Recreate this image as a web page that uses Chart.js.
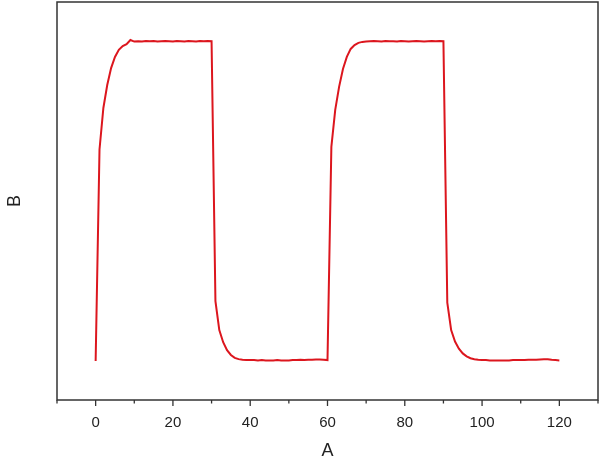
<!DOCTYPE html>
<html>
<head>
<meta charset="utf-8">
<script src="https://cdn.jsdelivr.net/npm/chart.js@4.4.1/dist/chart.umd.min.js"></script>
<style>
  html, body { margin: 0; padding: 0; background: #fff; }
</style>
</head>
<body>
<canvas id="chart" width="600" height="463"></canvas>
<script>
// ── Datos ───────────────────────────────────────────────────────────
const timeA = [
  0, 1, 2, 3, 4, 5, 6, 7, 8, 9, 10, 11, 12, 13, 14, 15, 16, 17, 18, 19,
  20, 21, 22, 23, 24, 25, 26, 27, 28, 29, 30, 31, 32, 33, 34, 35, 36, 37, 38, 39,
  40, 41, 42, 43, 44, 45, 46, 47, 48, 49, 50, 51, 52, 53, 54, 55, 56, 57, 58, 59,
  60, 61, 62, 63, 64, 65, 66, 67, 68, 69, 70, 71, 72, 73, 74, 75, 76, 77, 78, 79,
  80, 81, 82, 83, 84, 85, 86, 87, 88, 89, 90, 91, 92, 93, 94, 95, 96, 97, 98, 99,
  100, 101, 102, 103, 104, 105, 106, 107, 108, 109, 110, 111, 112, 113, 114, 115, 116, 117, 118, 119,
  120
];

const signalB = [
  -0.003, 0.660, 0.790, 0.862, 0.915, 0.950, 0.972, 0.984, 0.990, 1.003,
  0.998, 0.999, 0.998, 1.000, 0.999, 1.000, 0.998, 0.999, 1.000, 0.999,
  0.998, 1.000, 0.999, 0.998, 1.000, 0.999, 0.998, 1.000, 0.999, 1.000,
  0.999, 0.185, 0.094, 0.056, 0.031, 0.016, 0.007, 0.003, 0.001, 0.000,
  0.000, 0.000, -0.001, 0.000, -0.001, -0.001, -0.001, 0.000, -0.001, -0.001,
  -0.001, 0.000, 0.000, 0.001, 0.000, 0.001, 0.001, 0.002, 0.002, 0.001,
  0.000, 0.668, 0.784, 0.856, 0.912, 0.950, 0.975, 0.987, 0.994, 0.997,
  0.998, 0.999, 1.000, 0.999, 0.998, 1.000, 0.999, 0.999, 0.998, 1.000,
  0.999, 0.998, 0.999, 1.000, 0.999, 0.998, 0.999, 1.000, 0.999, 1.000,
  0.999, 0.180, 0.094, 0.058, 0.036, 0.021, 0.012, 0.006, 0.003, 0.001,
  0.000, 0.000, -0.001, -0.001, -0.001, -0.001, -0.001, -0.001, 0.000, 0.000,
  0.000, 0.000, 0.001, 0.001, 0.001, 0.002, 0.003, 0.003, 0.001, 0.000,
  -0.001
];

const xTickLabels = [0, 20, 40, 60, 80, 100, 120];

// ── Marco y marcas del eje X (mayores cada 20, menores cada 10) ─────
const framePlugin = {
  id: 'frame',
  afterDraw(chart) {
    const { ctx, chartArea: a, scales: { x } } = chart;
    ctx.save();
    ctx.strokeStyle = '#333';
    ctx.lineWidth = 1.5;
    ctx.strokeRect(a.left, a.top, a.right - a.left, a.bottom - a.top);
    ctx.lineWidth = 1.3;
    x.ticks.forEach(t => {
      const px = x.getPixelForValue(t.value);
      const len = t.value % 20 === 0 ? 6 : 3.5;
      ctx.beginPath();
      ctx.moveTo(px, a.bottom);
      ctx.lineTo(px, a.bottom + len);
      ctx.stroke();
    });
    ctx.restore();
  }
};

new Chart(document.getElementById('chart'), {
  type: 'line',
  data: {
    datasets: [{
      data: timeA.map((t, i) => ({ x: t, y: signalB[i] })),
      borderColor: '#dc161e',
      borderWidth: 2,
      pointRadius: 0,
      tension: 0,
      fill: false
    }]
  },
  options: {
    responsive: false,
    animation: false,
    layout: { padding: { top: 2, right: 2 } },
    plugins: { legend: { display: false }, tooltip: { enabled: false } },
    scales: {
      x: {
        type: 'linear',
        min: -10, max: 130,
        grid: { display: false, drawTicks: false },
        border: { display: false },
        ticks: {
          stepSize: 10,
          autoSkip: false,
          maxRotation: 0,
          padding: 14,
          color: '#222',
          font: { family: 'Liberation Sans, Arial, sans-serif', size: 15 },
          callback: v => xTickLabels.includes(v) ? String(v) : ''
        },
        title: {
          display: true, text: 'A', color: '#222', padding: 1,
          font: { family: 'Liberation Sans, Arial, sans-serif', size: 18 }
        },
        // sin relleno extra a los lados: el área llega hasta el borde
        afterFit: s => { s.height = 63; s.paddingLeft = 0; s.paddingRight = 0; }
      },
      y: {
        min: -0.125, max: 1.122,
        grid: { display: false },
        border: { display: false },
        ticks: { display: false },
        title: {
          display: true, text: 'B', color: '#222', padding: 4,
          font: { family: 'Liberation Sans, Arial, sans-serif', size: 18 }
        },
        afterFit: s => { s.width = 57; }
      }
    }
  },
  plugins: [framePlugin]
});
</script>
</body>
</html>
